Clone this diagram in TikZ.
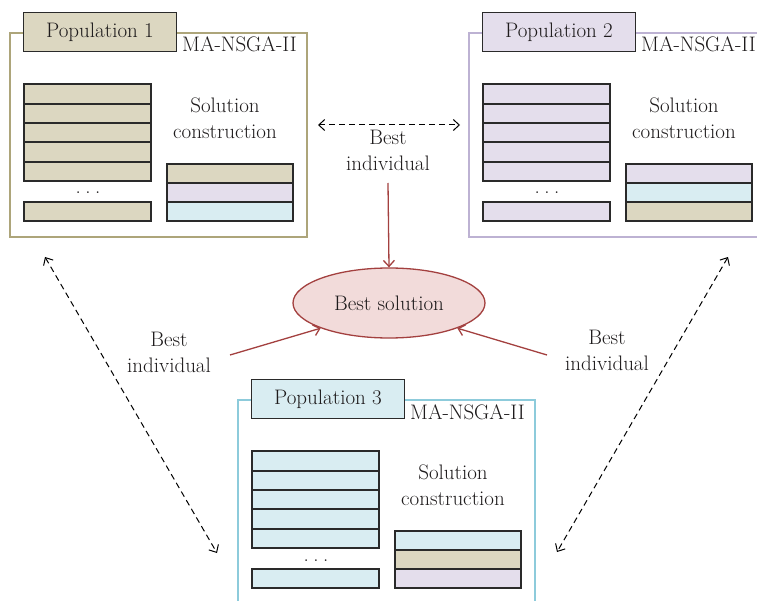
\documentclass[tikz,border=0pt]{standalone}
\usepackage{fontspec}
\usetikzlibrary{shapes.geometric,arrows.meta}

\definecolor{tanfill}{HTML}{DCD7C1}
\definecolor{lavfill}{HTML}{E4DEEC}
\definecolor{aquafill}{HTML}{D9EDF2}
\definecolor{tanframe}{HTML}{ADA57A}
\definecolor{lavframe}{HTML}{BDB2D3}
\definecolor{aquaframe}{HTML}{8DCBDB}
\definecolor{ink}{HTML}{1E1B1C}
\definecolor{barline}{HTML}{2A2A2A}
\definecolor{rosefill}{HTML}{F2DBDA}
\definecolor{maroon}{HTML}{A3403F}

\tikzset{
  every node/.style={text=ink, font=\fontsize{21}{26}\selectfont},
  frame/.style={line width=1.3pt},
  bar/.style={draw=barline, line width=1.5pt},
  tabbox/.style={draw=barline, line width=1.4pt, minimum width=153pt, minimum height=39pt, inner sep=0pt},
  bestnode/.style={ellipse, draw=maroon, fill=rosefill, line width=1.3pt,
    minimum width=192pt, minimum height=70pt, inner sep=0pt},
  exchange/.style={draw=black, line width=1pt, dash pattern=on 6pt off 4pt,
    {Straight Barb[length=6pt,width=11pt]}-{Straight Barb[length=6pt,width=11pt]}},
  report/.style={draw=maroon, line width=1.3pt, -{Straight Barb[length=6pt,width=11pt]}},
  label/.style={align=center, inner sep=2pt}
}

% #1 origin of the frame, #2 name prefix, #3 title, #4 frame colour,
% #5 population colour, #6-#8 colours of the assembled solution
\newcommand\popPanel[8]{%
\begin{scope}[shift={#1}]
  \draw[frame, draw=#4] (0,0) rectangle (297,204);
  \node[tabbox, fill=#5] (#2-tab) at (90,-1) {#3};
  \node[anchor=base west, inner sep=0pt] (#2-alg) at (172,19) {MA-NSGA-II};
  \foreach \ya/\yb in {51/71,71/90,90/109,109/129,129/148}
    \draw[bar, fill=#5] (14,\ya) rectangle (141,\yb);
  \node[anchor=base, inner sep=0pt] (#2-dots) at (78,161) {.\hspace{4.5pt}.\hspace{4.5pt}.};
  \draw[bar, fill=#5] (14,169) rectangle (141,188);
  \draw[bar, fill=#6] (157,131) rectangle (283,150);
  \draw[bar, fill=#7] (157,150) rectangle (283,169);
  \draw[bar, fill=#8] (157,169) rectangle (283,188);
  \node[label] (#2-sol) at (215,85) {Solution\\construction};
\end{scope}}

\begin{document}
\begin{tikzpicture}[x=1pt, y=-1pt]
  \useasboundingbox (0,0) rectangle (757,601);
  \clip (0,0) rectangle (757,601);

  \popPanel{(10,33)}{p1}{Population 1}{tanframe}{tanfill}{tanfill}{lavfill}{aquafill}
  \popPanel{(469,33)}{p2}{Population 2}{lavframe}{lavfill}{lavfill}{aquafill}{tanfill}
  \popPanel{(238,400)}{p3}{Population 3}{aquaframe}{aquafill}{aquafill}{tanfill}{lavfill}

  % shared best solution
  \node[bestnode] (best) at (389,303) {Best solution};

  % labels of the migration links
  \node[label] (bi-top) at (388,150) {Best\\individual};
  \node[label] (bi-left) at (169,352) {Best\\individual};
  \node[label] (bi-right) at (607,350) {Best\\individual};

  % ends of the migration links
  \coordinate (m12a) at (318,125);
  \coordinate (m12b) at (460,125);
  \coordinate (m13a) at (45,257);
  \coordinate (m13b) at (217,553);
  \coordinate (m23a) at (728,257);
  \coordinate (m23b) at (557,552);
  \draw[exchange] (m12a) -- (m12b);
  \draw[exchange] (m13a) -- (m13b);
  \draw[exchange] (m23a) -- (m23b);

  % reports to the best solution
  \coordinate (r-top) at (388,183);
  \coordinate (r-left) at (230,355);
  \coordinate (r-right) at (547,355);
  \draw[report] (r-top) -- (best.north);
  \draw[report] (r-left) -- (best.south west);
  \draw[report] (r-right) -- (best.south east);
\end{tikzpicture}
\end{document}
